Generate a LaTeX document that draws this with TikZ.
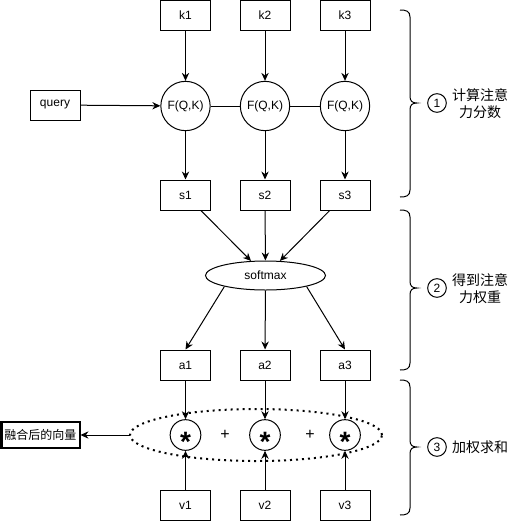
\documentclass[tikz,border=0pt]{standalone}
\usepackage{fontspec}
\setmainfont{Liberation Sans}
\newfontfamily\cjk{Noto Sans CJK SC}
\usetikzlibrary{arrows.meta,shapes.geometric}
\begin{document}
\begin{tikzpicture}[x=0.75pt,y=-0.75pt,
  every node/.style={font=\fontsize{9pt}{11pt}\selectfont},
  bx/.style={draw, line width=0.75pt, minimum width=37.5pt, minimum height=22.5pt, inner sep=0pt},
  fq/.style={draw, circle, line width=0.75pt, minimum size=37pt, inner sep=0pt},
  st/.style={draw, circle, line width=0.75pt, minimum size=23pt, inner sep=0pt},
  num/.style={draw, circle, line width=0.75pt, minimum size=14pt, inner sep=0pt},
  arr/.style={-{Stealth[length=6pt,width=5.5pt]}, line width=0.75pt},
  ln/.style={line width=0.75pt},
  brc/.style={line width=0.75pt},
  lab/.style={font=\cjk\fontsize{10.5pt}{12.75pt}\selectfont, align=center, inner sep=0pt},
  astx/.style={font=\fontsize{21pt}{21pt}\selectfont\bfseries, inner sep=0pt, text height=0pt, text depth=0pt},
  pls/.style={font=\fontsize{12pt}{12pt}\selectfont}
]
\useasboundingbox (0,0) rectangle (511,522);

% keys
\node[bx] (k1) at (185.5,15) {k1};
\node[bx] (k2) at (265,15) {k2};
\node[bx] (k3) at (345,15) {k3};
% query
\node[bx] (q) at (55,105) {query};
% F(Q,K)
\node[fq] (f1) at (185.5,106) {F(Q,K)};
\node[fq] (f2) at (265,106) {F(Q,K)};
\node[fq] (f3) at (345,106) {F(Q,K)};
% scores
\node[bx] (s1) at (185.5,195) {s1};
\node[bx] (s2) at (265,195) {s2};
\node[bx] (s3) at (345,195) {s3};
% softmax
\node[draw, ellipse, line width=0.75pt, minimum width=90pt, minimum height=21.75pt, inner sep=0pt] (sm) at (265.5,275.5) {softmax};
% weights
\node[bx] (a1) at (185.5,365) {a1};
\node[bx] (a2) at (265,365) {a2};
\node[bx] (a3) at (345,365) {a3};
% dotted ellipse
\node[draw, ellipse, line width=1.5pt, dash pattern=on 1.5pt off 3pt, minimum width=189pt, minimum height=39pt, inner sep=0pt] (de) at (256,435) {};
% multiply circles
\node[st] (m1) at (185.5,435) {};
\node[st] (m2) at (265,435) {};
\node[st] (m3) at (345,435) {};
\node[astx] (x1) at (m1.center) {\raisebox{-0.6em}{*}};
\node[astx] (x2) at (m2.center) {\raisebox{-0.6em}{*}};
\node[astx] (x3) at (m3.center) {\raisebox{-0.6em}{*}};
\node[pls] (p1) at (225,435) {+};
\node[pls] (p2) at (310,435) {+};
% values
\node[bx] (v1) at (185.5,505) {v1};
\node[bx] (v2) at (265,505) {v2};
\node[bx] (v3) at (345,505) {v3};
% result
\node[draw, line width=1.5pt, minimum width=58.5pt, minimum height=19.5pt, inner sep=0pt, font=\cjk\fontsize{9pt}{11pt}\selectfont] (res) at (40.5,435) {融合后的向量};

% connectors
\draw[arr] (k1) -- (f1);
\draw[arr] (k2) -- (f2);
\draw[arr] (k3) -- (f3);
\draw[arr] (q) -- (f1);
\draw[ln] (f1) -- (f2);
\draw[ln] (f2) -- (f3);
\draw[arr] (f1) -- (s1);
\draw[arr] (f2) -- (s2);
\draw[arr] (f3) -- (s3);
\draw[arr] (s1) -- (sm);
\draw[arr] (s2) -- (sm);
\draw[arr] (s3) -- (sm);
\draw[arr] (sm.195) -- (a1.north);
\draw[arr] (sm) -- (a2);
\draw[arr] (sm.345) -- (a3.north);
\draw[arr] (a1) -- (m1);
\draw[arr] (a2) -- (m2);
\draw[arr] (a3) -- (m3);
\draw[arr] (v1) -- (m1);
\draw[arr] (v2) -- (m2);
\draw[arr] (v3) -- (m3);
\draw[arr] (de.west) -- (res.east);

% braces
\draw[brc] (400,10) .. controls (406,10) and (410,11) .. (410,17) -- (410,96)
  .. controls (410,101) and (412,103) .. (417,103)
  .. controls (412,103) and (410,105) .. (410,110) -- (410,190)
  .. controls (410,196) and (406,197) .. (400,197);
\draw[brc] (400,210) .. controls (406,210) and (410,211) .. (410,217) -- (410,281)
  .. controls (410,286) and (412,288) .. (417,288)
  .. controls (412,288) and (410,290) .. (410,295) -- (410,363)
  .. controls (410,369) and (406,370) .. (400,370);
\draw[brc] (400,380) .. controls (406,380) and (410,381) .. (410,387) -- (410,440)
  .. controls (410,445) and (412,447) .. (417,447)
  .. controls (412,447) and (410,449) .. (410,454) -- (410,508)
  .. controls (410,514) and (406,515) .. (400,515);

% step labels
\node[num] (n1) at (437,103) {1};
\node[lab] (l1) at (480,103.5) {计算注意\\力分数};
\node[num] (n2) at (437,288) {2};
\node[lab] (l2) at (480,289) {得到注意\\力权重};
\node[num] (n3) at (437,447) {3};
\node[lab] (l3) at (480,447) {加权求和};
\end{tikzpicture}
\end{document}
